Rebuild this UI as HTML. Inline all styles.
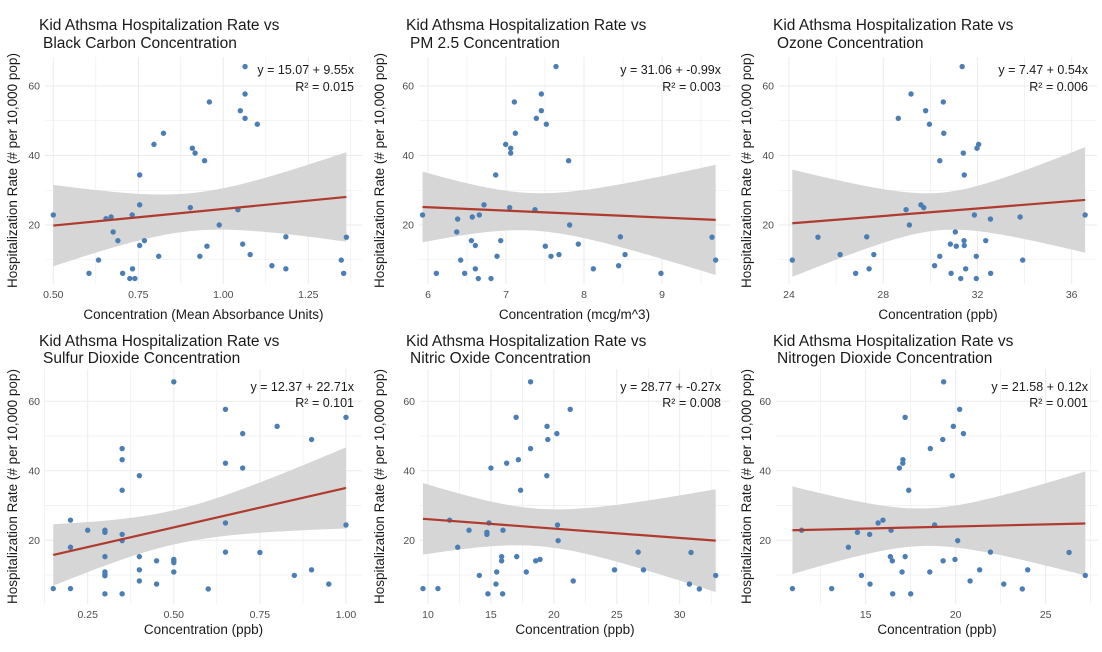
<!DOCTYPE html>
<html><head><meta charset="utf-8"><style>
html,body{margin:0;padding:0;background:#fff;}
svg{display:block;font-family:"Liberation Sans",sans-serif;}
</style></head><body>
<svg id="chart" width="1102" height="652" viewBox="0 0 1102 652" xmlns="http://www.w3.org/2000/svg"></svg>
<script>
// ---- data ----
const titles = ["Black Carbon Concentration","PM 2.5 Concentration","Ozone Concentration","Sulfur Dioxide Concentration","Nitric Oxide Concentration","Nitrogen Dioxide Concentration"];
const xLabels = ["Concentration (Mean Absorbance Units)","Concentration (mcg/m^3)","Concentration (ppb)","Concentration (ppb)","Concentration (ppb)","Concentration (ppb)"];
const intercepts = [15.07, 31.06, 7.47, 12.37, 28.77, 21.58];
const slopes = [9.55, -0.99, 0.54, 22.71, -0.27, 0.12];
const r2Values = ["0.015","0.003","0.006","0.101","0.008","0.001"];
const xTicks = [[0.5,0.75,1.0,1.25],[6,7,8,9],[24,28,32,36],[0.25,0.5,0.75,1.0],[10,15,20,25,30],[15,20,25]];
const xTickLabels = [["0.50","0.75","1.00","1.25"],["6","7","8","9"],["24","28","32","36"],["0.25","0.50","0.75","1.00"],["10","15","20","25","30"],["15","20","25"]];
const yTicks = [20,40,60];

const x1 = [.5,.605,.633,.655,.67,.676,.69,.704,.725,.74,.733,.732,.754,.754,.754,.768,.796,.81,.824,.903,.909,.917,.931,.945,.952,.959,.988,1.043,1.05,1.057,1.064,1.064,1.064,1.079,1.1,1.143,1.184,1.184,1.347,1.354,1.362];
const y1 = [22.9,6.1,9.9,21.8,22.3,18.0,15.5,6.1,4.6,4.6,7.4,22.9,34.4,25.8,14.1,15.5,43.2,11.0,46.4,25.0,42.1,40.7,11.0,38.5,13.9,55.4,20.0,24.4,52.9,14.5,65.6,57.7,50.7,11.5,49.0,8.3,7.4,16.6,9.9,6.1,16.5];
const x2 = [5.93,6.107,6.368,6.38,6.419,6.47,6.556,6.568,6.607,6.607,6.645,6.658,6.718,6.808,6.868,6.885,6.932,6.996,7.047,7.06,7.06,7.107,7.12,7.372,7.389,7.453,7.453,7.504,7.517,7.577,7.641,7.679,7.803,7.816,7.927,8.12,8.444,8.466,8.526,8.987,9.641,9.688];
const y2 = [22.9,6.1,18.0,21.7,9.9,6.1,15.5,22.3,14.1,7.4,4.6,22.9,25.8,4.6,34.4,11.0,15.5,43.2,25.0,42.1,40.7,55.4,46.4,24.4,50.7,57.7,52.9,13.9,49.0,11.0,65.6,11.5,38.5,20.0,14.5,7.4,8.3,16.6,11.5,6.1,16.5,9.9];
const x3 = [24.14,25.23,26.17,26.83,27.3,27.4,27.6,28.64,28.97,29.11,29.18,29.6,29.72,29.8,29.96,30.18,30.4,30.4,30.55,30.57,30.85,30.88,31.06,31.1,31.29,31.35,31.4,31.43,31.44,31.44,31.5,31.87,31.95,31.95,31.98,32.05,32.35,32.55,32.56,33.81,33.92,36.57];
const y3 = [9.9,16.5,11.5,6.1,16.6,7.4,11.5,50.7,24.4,20.0,57.7,25.8,25.0,52.9,49.0,8.3,38.5,11.0,55.4,46.4,14.5,6.1,18.0,13.9,4.6,65.6,40.7,15.5,14.1,34.4,7.4,22.9,11.0,4.6,42.1,43.2,15.5,21.7,6.1,22.3,9.9,22.9];
const x4 = [.15,.2,.2,.2,.25,.3,.3,.3,.3,.3,.3,.3,.35,.35,.35,.35,.35,.35,.4,.4,.4,.4,.45,.45,.5,.5,.5,.5,.5,.6,.65,.65,.65,.65,.7,.7,.75,.8,.85,.9,.9,.95,1.0,1.0];
const y4 = [6.1,25.8,18.0,6.1,22.9,22.9,22.3,15.3,10.9,10.3,9.8,4.6,46.4,43.2,34.4,21.7,19.9,4.6,38.6,15.3,11.5,8.3,14.1,7.4,65.6,14.5,14.1,13.6,10.9,6.0,57.7,42.2,25.0,16.6,50.7,40.8,16.5,52.8,9.9,49.0,11.5,7.4,55.4,24.4];
const x5 = [9.6,10.79,11.72,12.36,13.26,14.08,14.68,14.68,14.76,14.84,15.0,15.4,15.46,15.85,15.85,15.93,15.96,16.25,17.0,17.05,17.18,17.36,17.81,18.15,18.15,18.56,18.9,19.46,19.44,19.52,20.24,20.29,20.34,21.3,21.54,24.82,26.7,27.12,30.77,30.9,31.56,32.86];
const y5 = [6.1,6.1,25.8,18.0,22.9,9.9,22.3,21.7,4.6,25.0,40.8,7.4,10.9,15.3,14.1,4.6,22.9,42.2,55.4,15.3,43.2,34.4,10.9,65.6,46.4,14.1,14.5,52.8,38.6,49.0,50.7,24.4,19.9,57.7,8.3,11.5,16.6,11.5,7.4,16.5,6.0,9.9];
const x6 = [10.93,11.44,13.11,14.04,14.54,14.76,15.22,15.24,15.69,15.96,16.37,16.41,16.48,16.5,16.87,17.02,17.06,17.07,17.19,17.19,17.39,17.5,18.56,18.59,18.83,19.28,19.3,19.33,19.81,19.87,19.96,20.11,20.22,20.43,20.8,21.33,21.93,22.67,23.7,24.0,26.3,27.2];
const y6 = [6.1,22.9,6.1,18.0,22.3,9.9,21.7,7.4,25.0,25.8,15.3,22.9,14.1,4.6,40.8,10.9,42.2,43.2,55.4,15.3,34.4,4.6,10.9,46.4,24.4,49.0,14.1,65.6,38.6,52.8,14.5,19.9,57.7,50.7,8.3,11.5,16.6,7.4,6.0,11.5,16.5,9.9];
const xsAll = [x1,x2,x3,x4,x5,x6];
const ysAll = [y1,y2,y3,y4,y5,y6];

// ---- layout (pixels) ----
const layout = [
 {ox:0,  L:45, R:362, top:57, bot:284, xa:[0.5,53.3],xb:[1.25,308.3], ya:[20,225],yb:[60,86], minor:0.125},
 {ox:367,L:419,R:730, top:57, bot:284, xa:[6,428],xb:[9,662], ya:[20,225],yb:[60,86], minor:0.5},
 {ox:734,L:779,R:1097,top:57, bot:284, xa:[24,789],xb:[36,1071.7], ya:[20,225],yb:[60,86], minor:2},
 {ox:0,  L:45, R:362, top:369,bot:604, xa:[0.25,87.7],xb:[1.0,346], ya:[20,540.3],yb:[60,401.3], minor:0.125},
 {ox:367,L:420,R:730, top:369,bot:604, xa:[10,428],xb:[30,679.7], ya:[20,540.3],yb:[60,401.3], minor:2.5},
 {ox:734,L:776,R:1098,top:369,bot:604, xa:[15,865.7],xb:[25,1045.7], ya:[20,540.3],yb:[60,401.3], minor:2.5}
];

const NS="http://www.w3.org/2000/svg";
const svg=document.getElementById('chart');
function mk(tag,attrs,parent){const e=document.createElementNS(NS,tag);for(const k in attrs)e.setAttribute(k,attrs[k]);(parent||svg).appendChild(e);return e;}

layout.forEach((g,i)=>{
  const grp=mk('g',{});
  
  
  const sx=v=>g.xa[1]+(v-g.xa[0])*(g.xb[1]-g.xa[1])/(g.xb[0]-g.xa[0]);
  const sy=v=>g.ya[1]+(v-g.ya[0])*(g.yb[1]-g.ya[1])/(g.yb[0]-g.ya[0]);
  const inX=p=>p>=g.L-0.5&&p<=g.R+0.5;
  // grid
  const ticks=xTicks[i];
  const step=ticks[1]-ticks[0];
  for(let v=ticks[0]-step/2; sx(v)<=g.R+0.5; v+=step/2){
    const p=sx(v); if(!inX(p)) continue;
    const major=ticks.some(t=>Math.abs(t-v)<1e-9);
    const l=mk('line',{x1:p,x2:p,y1:g.top,y2:g.bot,stroke:'#ebebeb','stroke-width':major?1:0.6},grp);
    
    
  }
  [10,20,30,40,50,60].forEach(v=>{
    const p=sy(v); if(p<g.top||p>g.bot) return;
    const l=mk('line',{x1:g.L,x2:g.R,y1:p,y2:p,stroke:'#ebebeb','stroke-width':(v%20===0)?1:0.6},grp);
    
    
  });
  // regression + band
  const xs=xsAll[i], ys=ysAll[i], n=xs.length;
  const a=intercepts[i], b=slopes[i];
  const xbar=xs.reduce((s,v)=>s+v,0)/n;
  const sxx=xs.reduce((s,v)=>s+(v-xbar)*(v-xbar),0);
  const sse=xs.reduce((s,v,k)=>s+Math.pow(ys[k]-(a+b*v),2),0);
  const se=Math.sqrt(sse/(n-2)), t=2.02;
  const xmin=Math.min(...xs), xmax=Math.max(...xs);
  let up=[],lo=[];
  for(let k=0;k<=80;k++){
    const xv=xmin+(xmax-xmin)*k/80;
    const h=t*se*Math.sqrt(1/n+(xv-xbar)*(xv-xbar)/sxx);
    up.push(sx(xv).toFixed(2)+','+sy(a+b*xv+h).toFixed(2));
    lo.unshift(sx(xv).toFixed(2)+','+sy(a+b*xv-h).toFixed(2));
  }
  const band=mk('polygon',{points:up.concat(lo).join(' '),fill:'#d6d6d6'},grp);
  
  
  // points
  xs.forEach((v,k)=>{
    const c=mk('circle',{cx:sx(v),cy:sy(ys[k]),r:2.7,fill:'#4a7eb5'},grp);
    
    
  });
  const ln=mk('line',{x1:sx(xmin),y1:sy(a+b*xmin),x2:sx(xmax),y2:sy(a+b*xmax),stroke:'#b03a2e','stroke-width':2.2},grp);
  
  
  // tick labels
  ticks.forEach((v,k)=>{
    const tx=mk('text',{x:sx(v),y:g.bot+14,'font-size':10.5,fill:'#4d4d4d','text-anchor':'middle'},grp);
    tx.textContent=xTickLabels[i][k];
    
    
  });
  yTicks.forEach(v=>{
    const tx=mk('text',{x:g.L-5,y:sy(v)+3.5,'font-size':10.5,fill:'#4d4d4d','text-anchor':'end'},grp);
    tx.textContent=String(v);
    
    
  });
  // titles
  const rowTop = i<3 ? 0 : 326;
  const t1=mk('text',{x:g.ox+39,y:rowTop+(i<3?30:20),'font-size':15.5,fill:'#1a1a1a'},grp);
  t1.textContent='Kid Athsma Hospitalization Rate vs';
  
  
  const t2=mk('text',{x:g.ox+43,y:rowTop+(i<3?48:37),'font-size':15.5,fill:'#1a1a1a'},grp);
  t2.textContent=titles[i];
  
  
  // axis titles
  const xt=mk('text',{x:(g.L+g.R)/2,y:rowTop+(i<3?319:308),'font-size':13.5,fill:'#1a1a1a','text-anchor':'middle'},grp);
  xt.textContent=xLabels[i];
  
  
  const cy=(g.top+g.bot)/2, cx=g.ox+17;
  const yt=mk('text',{x:cx,y:cy,'font-size':13.5,fill:'#1a1a1a','text-anchor':'middle',transform:'rotate(-90 '+cx+' '+cy+')'},grp);
  yt.textContent='Hospitalization Rate (# per 10,000 pop)';
  
  
  // annotation
  const ax=g.ox+354;
  const e1=mk('text',{x:ax,y:rowTop+(i<3?74:65),'font-size':12.5,fill:'#1a1a1a','text-anchor':'end'},grp);
  e1.textContent='y = '+intercepts[i].toFixed(2)+' + '+slopes[i].toFixed(2)+'x';
  
  
  const e2=mk('text',{x:ax,y:rowTop+(i<3?91:81),'font-size':12.5,fill:'#1a1a1a','text-anchor':'end'},grp);
  e2.textContent='R² = '+r2Values[i];
  
  
});
</script>
</body></html>
